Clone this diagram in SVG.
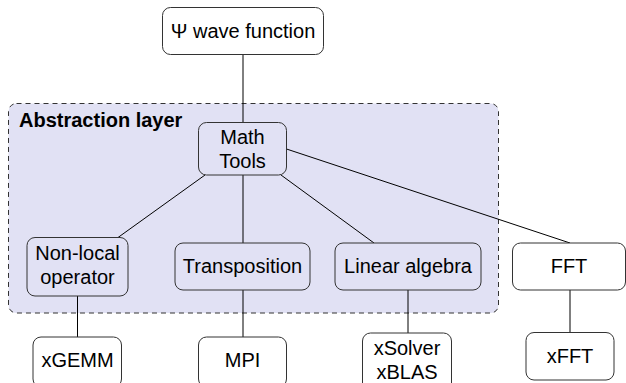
<svg xmlns="http://www.w3.org/2000/svg" width="626" height="383" viewBox="0 0 626 383">
<style>
.box{fill:#ffffff;stroke:#333333;stroke-width:1}
.inbox{fill:#e1e1f4;stroke:#333333;stroke-width:1}
.grp{fill:#e1e1f4;stroke:#333333;stroke-width:1;stroke-dasharray:5 4}
.t{font-family:"Liberation Sans",Arial,sans-serif;font-size:20px;fill:#000000;text-anchor:middle}
.gl{font-family:"Liberation Sans",Arial,sans-serif;font-size:20px;font-weight:bold;fill:#000000}
.c{stroke:#000000;stroke-width:1;fill:none}
</style>
<rect width="626" height="383" fill="#ffffff"/>
<g id="abstraction-layer">
<rect class="grp" x="8.5" y="103.5" width="490" height="209.5" rx="8"/>
<text class="gl" x="19" y="127">Abstraction layer</text>
</g>
<g id="connectors">
<line class="c" x1="243" y1="54.5" x2="243" y2="122.5"/>
<line class="c" x1="205" y1="175" x2="118" y2="237.5"/>
<line class="c" x1="243" y1="175" x2="243" y2="243"/>
<line class="c" x1="281" y1="175" x2="374" y2="243"/>
<line class="c" x1="286.5" y1="149" x2="570" y2="243"/>
<line class="c" x1="77.5" y1="296" x2="77.5" y2="337"/>
<line class="c" x1="243" y1="290" x2="243" y2="337"/>
<line class="c" x1="408" y1="290" x2="408" y2="333"/>
<line class="c" x1="570" y1="290" x2="570" y2="332.5"/>
</g>
<g id="wave-function">
<rect class="box" x="162.5" y="7.5" width="161" height="47" rx="8"/>
<text class="t" x="243" y="38">Ψ wave function</text>
</g>
<g id="math-tools">
<rect class="inbox" x="198.5" y="122.5" width="88" height="52.5" rx="8"/>
<text class="t" x="242.5" y="144">Math</text>
<text class="t" x="242.5" y="168">Tools</text>
</g>
<g id="non-local-operator">
<rect class="inbox" x="27" y="237.5" width="101" height="58.5" rx="8"/>
<text class="t" x="77.5" y="260">Non-local</text>
<text class="t" x="77.5" y="284">operator</text>
</g>
<g id="transposition">
<rect class="inbox" x="175" y="243" width="135" height="47" rx="8"/>
<text class="t" x="242.5" y="273">Transposition</text>
</g>
<g id="linear-algebra">
<rect class="inbox" x="335" y="243" width="146" height="47" rx="8"/>
<text class="t" x="408" y="273">Linear algebra</text>
</g>
<g id="fft">
<rect class="box" x="512.5" y="243" width="113" height="47" rx="8"/>
<text class="t" x="569" y="273">FFT</text>
</g>
<g id="xgemm">
<rect class="box" x="33" y="337" width="88.5" height="50" rx="8"/>
<text class="t" x="77.5" y="367">xGEMM</text>
</g>
<g id="mpi">
<rect class="box" x="198.5" y="337" width="88" height="50" rx="8"/>
<text class="t" x="242.5" y="367">MPI</text>
</g>
<g id="xsolver-xblas">
<rect class="box" x="362.5" y="333" width="89" height="60" rx="8"/>
<text class="t" x="407" y="355">xSolver</text>
<text class="t" x="407" y="379">xBLAS</text>
</g>
<g id="xfft">
<rect class="box" x="526" y="332.5" width="88" height="47.5" rx="8"/>
<text class="t" x="570" y="362.5">xFFT</text>
</g>
</svg>
